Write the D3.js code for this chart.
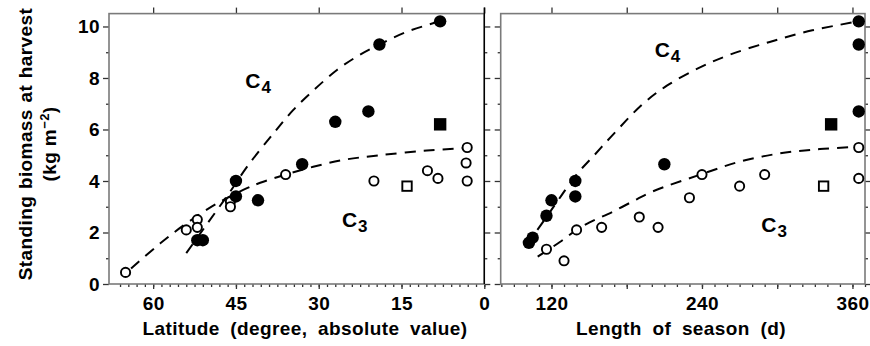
<!DOCTYPE html>
<html>
<head>
<meta charset="utf-8">
<script src="https://cdn.jsdelivr.net/npm/d3@7/dist/d3.min.js"></script>
<style>
  body { margin: 0; background: #fff; }
  text { font-family: "Liberation Sans", Arial, Helvetica, sans-serif; fill: #000; font-weight: bold; letter-spacing: 0.4px; }
</style>
</head>
<body>
<svg id="chart" width="870" height="346"></svg>
<script>
// ---- latitude panel ----
var latC3 = [65, 54, 52, 52, 46, 46, 36, 20, 10.3, 8.4, 3.1, 3.3, 3.1];
var latC3Mass = [0.45, 2.1, 2.5, 2.2, 3.2, 3.0, 4.25, 4.0, 4.4, 4.1, 5.3, 4.7, 4.0];
var latC4 = [8, 19, 21, 27, 33, 41, 45, 45, 52, 51];
var latC4Mass = [10.2, 9.3, 6.7, 6.3, 4.65, 3.25, 4.0, 3.4, 1.7, 1.7];
var latC3Square = [14];
var latC3SquareMass = [3.8];
var latC4Square = [8];
var latC4SquareMass = [6.2];
// dashed fitted curves
var latC3Curve = [64, 58.7, 54, 48.4, 43, 40.6, 36, 31, 25.5, 18.9, 10.4, 3.1];
var latC3CurveMass = [0.6, 1.58, 2.35, 3.13, 3.72, 3.93, 4.25, 4.55, 4.82, 5.0, 5.18, 5.28];
var latC4Curve = [54, 50, 46, 43, 38.2, 34.6, 30.9, 26.7, 23.1, 19, 14, 8];
var latC4CurveMass = [1.2, 2.4, 3.6, 4.55, 5.85, 6.76, 7.53, 8.31, 8.83, 9.3, 9.8, 10.2];

// ---- season length panel ----
var seasonC3 = [365, 365, 290, 270, 240, 230, 205, 190, 160, 140, 130, 116];
var seasonC3Mass = [5.3, 4.1, 4.25, 3.8, 4.25, 3.35, 2.2, 2.6, 2.2, 2.1, 0.9, 1.35];
var seasonC4 = [365, 365, 365, 210, 139, 139, 120, 116, 105, 102];
var seasonC4Mass = [10.2, 9.3, 6.7, 4.65, 4.0, 3.4, 3.25, 2.65, 1.8, 1.6];
var seasonC3Square = [337];
var seasonC3SquareMass = [3.8];
var seasonC4Square = [343];
var seasonC4SquareMass = [6.2];
var seasonC3Curve = [109, 127, 140, 150, 169, 188, 201, 240, 270, 302, 334, 365];
var seasonC3CurveMass = [1.06, 1.64, 2.1, 2.38, 2.81, 3.29, 3.6, 4.27, 4.75, 5.07, 5.24, 5.33];
var seasonC4Curve = [100, 116, 126, 140, 155, 170, 193, 212, 238, 262, 294, 328, 365];
var seasonC4CurveMass = [1.5, 2.6, 3.3, 4.25, 5.05, 5.85, 7.0, 7.7, 8.4, 8.9, 9.4, 9.85, 10.2];

// ---- ticks ----
var massTicks = [0, 2, 4, 6, 8, 10];
var massMinor = [1, 3, 5, 7, 9];
var latTicks = [60, 45, 30, 15, 0];
var latMinor = d3.range(0, 67, 1.5);
var seasonTicks = [120, 180, 240, 300, 360];
var seasonLabels = [120, 240, 360];
var seasonMinor = d3.range(80, 371, 10);

var svg = d3.select("#chart");
var y = d3.scaleLinear().domain([0, 10.5]).range([284, 13.6]);

function zip(xs, ys) {
  return xs.map(function(v, i) { return [v, ys[i]]; });
}

function drawPanel(p) {
  var x = p.x;
  var x0 = x.range()[0], x1 = x.range()[1];
  var g = svg.append("g");

  // minor ticks
  g.append("g").attr("transform", "translate(0,284)")
    .call(d3.axisBottom(x).tickValues(p.minor).tickSize(3).tickFormat(""));
  g.append("g").attr("transform", "translate(" + x0 + ",0)")
    .call(d3.axisLeft(y).tickValues(massMinor).tickSize(3).tickFormat(""));
  g.append("g").attr("transform", "translate(" + x1 + ",0)")
    .call(d3.axisRight(y).tickValues(massMinor).tickSize(3).tickFormat(""));

  // major ticks
  g.append("g").attr("transform", "translate(0,284)")
    .call(d3.axisBottom(x).tickValues(p.ticks).tickSize(5).tickPadding(7.5).tickFormat(p.format));
  g.append("g").attr("transform", "translate(0,13.6)")
    .call(d3.axisTop(x).tickValues(p.ticks).tickSize(6).tickFormat(""));
  g.append("g").attr("transform", "translate(" + x0 + ",0)")
    .call(d3.axisLeft(y).tickValues(massTicks).tickSize(6).tickPadding(3)
      .tickFormat(p.yLabels ? d3.format("d") : ""));
  g.append("g").attr("transform", "translate(" + x1 + ",0)")
    .call(d3.axisRight(y).tickValues(massTicks).tickSize(6).tickFormat(""));

  g.selectAll(".domain").remove();
  g.selectAll(".tick line").attr("stroke", "#333").attr("stroke-width", 1.3);
  g.selectAll(".tick text").style("font-size", "19px").attr("fill", "#000");

  // frame
  g.append("rect")
    .attr("x", x0).attr("y", 13.6)
    .attr("width", x1 - x0).attr("height", 284 - 13.6)
    .attr("fill", "none").attr("stroke", "#7a7a7a").attr("stroke-width", 1.6);
  if (p.darkRight) {
    g.append("line").attr("x1", x1).attr("x2", x1).attr("y1", 7.6).attr("y2", 284)
      .attr("stroke", "#000").attr("stroke-width", 1.4);
  }

  // dashed fits
  var line = d3.line().x(function(d) { return x(d[0]); }).y(function(d) { return y(d[1]); })
    .curve(d3.curveCatmullRom);
  [p.c3Curve, p.c4Curve].forEach(function(c) {
    g.append("path").attr("d", line(c))
      .attr("fill", "none").attr("stroke", "#000").attr("stroke-width", 2)
      .attr("stroke-dasharray", "11,8");
  });

  // open circles (C3)
  g.selectAll(".c3").data(p.c3).enter().append("circle")
    .attr("cx", function(d) { return x(d[0]); }).attr("cy", function(d) { return y(d[1]); })
    .attr("r", 4.6).attr("fill", "#fff").attr("stroke", "#000").attr("stroke-width", 1.9);
  // filled circles (C4)
  g.selectAll(".c4").data(p.c4).enter().append("circle")
    .attr("cx", function(d) { return x(d[0]); }).attr("cy", function(d) { return y(d[1]); })
    .attr("r", 6.2).attr("fill", "#000");
  // squares
  g.selectAll(".s3").data(p.s3).enter().append("rect")
    .attr("x", function(d) { return x(d[0]) - 4.7; }).attr("y", function(d) { return y(d[1]) - 4.7; })
    .attr("width", 9.4).attr("height", 9.4)
    .attr("fill", "#fff").attr("stroke", "#000").attr("stroke-width", 1.9);
  g.selectAll(".s4").data(p.s4).enter().append("rect")
    .attr("x", function(d) { return x(d[0]) - 6.2; }).attr("y", function(d) { return y(d[1]) - 6.2; })
    .attr("width", 12.4).attr("height", 12.4).attr("fill", "#000");

  // C3 / C4 labels
  p.labels.forEach(function(l) {
    var t = g.append("text").attr("x", x(l[0])).attr("y", y(l[1]))
      .style("font-size", "21px").style("letter-spacing", "1px");
    t.append("tspan").text("C");
    t.append("tspan").attr("dy", 5).style("font-size", "17px").text(l[2]);
  });

  // axis title
  g.append("text").attr("x", p.titleX).attr("y", 335)
    .attr("text-anchor", "middle").style("font-size", "19px").style("word-spacing", "5px").text(p.title);
}

drawPanel({
  x: d3.scaleLinear().domain([68, 0]).range([109, 484.3]),
  ticks: latTicks,
  minor: latMinor,
  format: d3.format("d"),
  yLabels: true,
  darkRight: true,
  c3: zip(latC3, latC3Mass),
  c4: zip(latC4, latC4Mass),
  s3: zip(latC3Square, latC3SquareMass),
  s4: zip(latC4Square, latC4SquareMass),
  c3Curve: zip(latC3Curve, latC3CurveMass),
  c4Curve: zip(latC4Curve, latC4CurveMass),
  labels: [[43.3, 7.6, "4"], [25.8, 2.23, "3"]],
  title: "Latitude (degree, absolute value)",
  titleX: 305
});

drawPanel({
  x: d3.scaleLinear().domain([79.5, 370]).range([500.7, 865]),
  ticks: seasonTicks,
  minor: seasonMinor,
  format: function(d) { return seasonLabels.indexOf(d) >= 0 ? d : ""; },
  yLabels: false,
  darkRight: false,
  c3: zip(seasonC3, seasonC3Mass),
  c4: zip(seasonC4, seasonC4Mass),
  s3: zip(seasonC3Square, seasonC3SquareMass),
  s4: zip(seasonC4Square, seasonC4SquareMass),
  c3Curve: zip(seasonC3Curve, seasonC3CurveMass),
  c4Curve: zip(seasonC4Curve, seasonC4CurveMass),
  labels: [[202.3, 8.83, "4"], [287.3, 2.03, "3"]],
  title: "Length of season (d)",
  titleX: 681
});

// y axis title
var yTitle = svg.append("g").attr("transform", "translate(0,144)");
yTitle.append("text").attr("transform", "translate(32,0) rotate(-90)")
  .attr("text-anchor", "middle").style("font-size", "19px").style("word-spacing", "1px")
  .text("Standing biomass at harvest");
var unit = yTitle.append("text").attr("transform", "translate(56,0) rotate(-90)")
  .attr("text-anchor", "middle").style("font-size", "19px");
unit.append("tspan").text("(kg m");
unit.append("tspan").attr("dy", -7).style("font-size", "13px").text("\u22122");
unit.append("tspan").attr("dy", 7).text(")");
</script>
</body>
</html>
